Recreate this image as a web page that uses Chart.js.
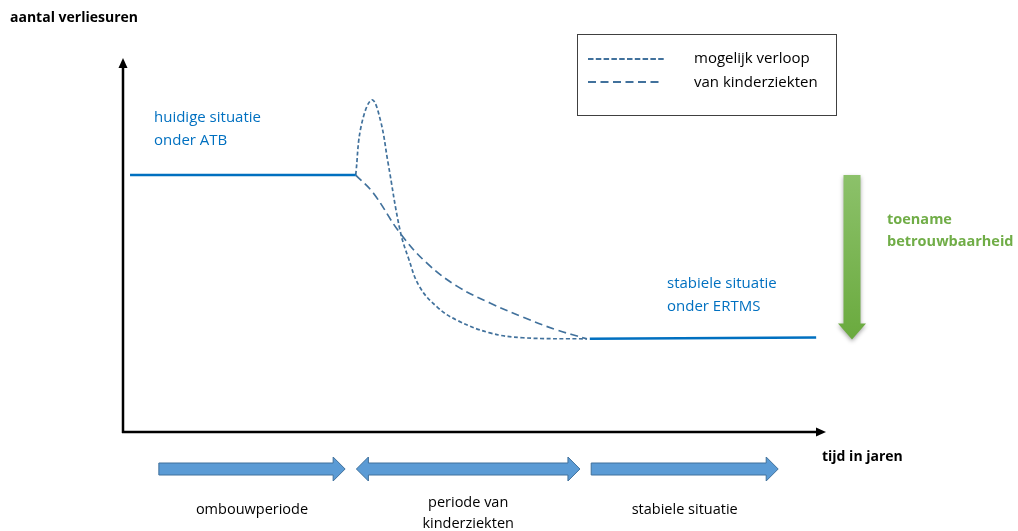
<!DOCTYPE html>
<html>
<head>
<meta charset="utf-8">
<script src="https://cdn.jsdelivr.net/npm/chart.js@4"></script>
<style>
  html, body { margin: 0; padding: 0; background: #fff; }
  #wrap { width: 1018px; height: 531px; position: relative; }
</style>
</head>
<body>
<div id="wrap"><canvas id="chart"></canvas></div>
<script>
// huidige situatie (ATB) en stabiele situatie (ERTMS)
const preX = [1, 33.1];
const preY = [68.7, 68.7];
const postX = [66.4, 98.6];
const postY = [24.9, 25.3];

// mogelijk verloop van kinderziekten: piek-variant
const peakX = [33.1, 33.9, 35.4, 36.6, 37.7, 39.4, 40.6, 42.2, 44.7, 47.5, 52.2, 56.9, 66.0];
const peakY = [68.7, 82.0, 88.8, 83.5, 72.0, 54.0, 46.5, 38.8, 33.4, 29.9, 26.5, 25.2, 24.9];

// mogelijk verloop van kinderziekten: geleidelijke variant
const slowX = [33.1, 35.6, 39.4, 43.2, 47.5, 52.2, 56.9, 61.7, 66.0];
const slowY = [68.7, 63.9, 53.2, 45.2, 39.0, 34.5, 30.7, 27.3, 24.9];

// perioden onder de tijdas
const periodLabels = [['ombouwperiode'], ['periode van', 'kinderziekten'], ['stabiele situatie']];
const periodStart = [5.1, 33.2, 66.6];
const periodEnd = [31.6, 65.0, 93.2];
const periodDouble = [false, true, false];

// betrouwbaarheid: van oud naar nieuw niveau
const reliabilityFrom = 68.7;
const reliabilityTo = 24.7;

const toPts = (xs, ys) => xs.map((x, i) => ({ x: x, y: ys[i] }));

const solidBlue = '#0070C0';
const dashBlue = '#41719C';
const font = '"Open Sans", "Liberation Sans", sans-serif';

function blockArrow(ctx, x1, x2, yc, dbl) {
  const sh = 6, hh = 12, hl = 12;
  ctx.beginPath();
  if (dbl) {
    ctx.moveTo(x1, yc);
    ctx.lineTo(x1 + hl, yc - hh);
    ctx.lineTo(x1 + hl, yc - sh);
  } else {
    ctx.moveTo(x1, yc - sh);
  }
  ctx.lineTo(x2 - hl, yc - sh);
  ctx.lineTo(x2 - hl, yc - hh);
  ctx.lineTo(x2, yc);
  ctx.lineTo(x2 - hl, yc + hh);
  ctx.lineTo(x2 - hl, yc + sh);
  if (dbl) {
    ctx.lineTo(x1 + hl, yc + sh);
    ctx.lineTo(x1 + hl, yc + hh);
  } else {
    ctx.lineTo(x1, yc + sh);
  }
  ctx.closePath();
  ctx.fillStyle = '#5B9BD5';
  ctx.fill();
  ctx.strokeStyle = '#41719C';
  ctx.lineWidth = 1;
  ctx.stroke();
}

const diagram = {
  id: 'diagram',
  beforeDatasetsDraw(chart) {
    const ctx = chart.ctx;
    const xs = chart.scales.x, ys = chart.scales.y;
    const x0 = xs.getPixelForValue(0), y0 = ys.getPixelForValue(0);
    const xTip = xs.getPixelForValue(100), yTip = ys.getPixelForValue(100);
    ctx.save();
    // assen
    ctx.strokeStyle = '#000';
    ctx.fillStyle = '#000';
    ctx.lineWidth = 2.5;
    ctx.beginPath();
    ctx.moveTo(x0, y0 + 1);
    ctx.lineTo(x0, yTip + 8);
    ctx.moveTo(x0 - 1, y0);
    ctx.lineTo(xTip - 8, y0);
    ctx.stroke();
    ctx.beginPath();
    ctx.moveTo(x0, yTip);
    ctx.lineTo(x0 - 4.5, yTip + 10);
    ctx.lineTo(x0 + 4.5, yTip + 10);
    ctx.closePath();
    ctx.fill();
    ctx.beginPath();
    ctx.moveTo(xTip, y0);
    ctx.lineTo(xTip - 10, y0 - 4.5);
    ctx.lineTo(xTip - 10, y0 + 4.5);
    ctx.closePath();
    ctx.fill();
    ctx.restore();
  },
  afterDraw(chart) {
    const ctx = chart.ctx;
    const xs = chart.scales.x, ys = chart.scales.y;
    ctx.save();
    ctx.textBaseline = 'middle';

    // aslabels
    ctx.fillStyle = '#000';
    ctx.font = 'bold 14px ' + font;
    ctx.textAlign = 'left';
    ctx.fillText('aantal verliesuren', 10, 18);
    ctx.fillText('tijd in jaren', 822, 457);

    // situatie-teksten
    ctx.font = '15px ' + font;
    ctx.fillStyle = solidBlue;
    ctx.fillText('huidige situatie', 154, 118);
    ctx.fillText('onder ATB', 154, 141);
    ctx.fillText('stabiele situatie', 667, 284);
    ctx.fillText('onder ERTMS', 667, 307);

    // perioden
    periodLabels.forEach((lines, i) => {
      const a = xs.getPixelForValue(periodStart[i]);
      const b = xs.getPixelForValue(periodEnd[i]);
      blockArrow(ctx, a, b, 469, periodDouble[i]);
      ctx.fillStyle = '#000';
      ctx.font = '14.5px ' + font;
      ctx.textAlign = 'center';
      const cy = lines.length > 1 ? 503 : 510;
      lines.forEach((t, j) => ctx.fillText(t, (a + b) / 2, cy + j * 21));
    });

    // groene pijl
    const gx = 852;
    const gTop = ys.getPixelForValue(reliabilityFrom);
    const gBot = ys.getPixelForValue(reliabilityTo);
    const grad = ctx.createLinearGradient(0, gTop, 0, gBot);
    grad.addColorStop(0, '#8CC16A');
    grad.addColorStop(1, '#6AAA3E');
    ctx.save();
    ctx.shadowColor = 'rgba(0,0,0,0.35)';
    ctx.shadowBlur = 4;
    ctx.shadowOffsetY = 2;
    ctx.fillStyle = grad;
    ctx.beginPath();
    ctx.moveTo(gx - 8.5, gTop);
    ctx.lineTo(gx + 8.5, gTop);
    ctx.lineTo(gx + 8.5, gBot - 16);
    ctx.lineTo(gx + 14, gBot - 16);
    ctx.lineTo(gx, gBot);
    ctx.lineTo(gx - 14, gBot - 16);
    ctx.lineTo(gx - 8.5, gBot - 16);
    ctx.closePath();
    ctx.fill();
    ctx.restore();
    ctx.fillStyle = '#70AD47';
    ctx.font = 'bold 14.5px ' + font;
    ctx.textAlign = 'left';
    ctx.fillText('toename', 887, 220);
    ctx.fillText('betrouwbaarheid', 887, 242);

    // legenda
    ctx.strokeStyle = '#404040';
    ctx.lineWidth = 1;
    ctx.strokeRect(577.5, 34.5, 259, 81);
    ctx.strokeStyle = dashBlue;
    ctx.lineWidth = 1.8;
    ctx.setLineDash([5.5, 2.3]);
    ctx.beginPath();
    ctx.moveTo(588, 59);
    ctx.lineTo(666, 59);
    ctx.stroke();
    ctx.setLineDash([8, 4.5]);
    ctx.beginPath();
    ctx.moveTo(588, 82);
    ctx.lineTo(663, 82);
    ctx.stroke();
    ctx.setLineDash([]);
    ctx.fillStyle = '#000';
    ctx.font = '15px ' + font;
    ctx.fillText('mogelijk verloop', 694, 59);
    ctx.fillText('van kinderziekten', 694, 83);
    ctx.restore();
  }
};

new Chart(document.getElementById('chart'), {
  type: 'line',
  data: {
    datasets: [
      {
        label: 'huidige situatie onder ATB',
        data: toPts(preX, preY),
        borderColor: solidBlue,
        borderWidth: 2.5,
        pointRadius: 0
      },
      {
        label: 'stabiele situatie onder ERTMS',
        data: toPts(postX, postY),
        borderColor: solidBlue,
        borderWidth: 2.5,
        pointRadius: 0
      },
      {
        label: 'mogelijk verloop (piek)',
        data: toPts(peakX, peakY),
        borderColor: dashBlue,
        borderWidth: 1.7,
        borderDash: [4, 2.5],
        tension: 0.4,
        pointRadius: 0
      },
      {
        label: 'mogelijk verloop (geleidelijk)',
        data: toPts(slowX, slowY),
        borderColor: dashBlue,
        borderWidth: 1.7,
        borderDash: [8, 4.5],
        tension: 0.4,
        pointRadius: 0
      }
    ]
  },
  options: {
    responsive: true,
    maintainAspectRatio: false,
    animation: false,
    layout: {
      padding: { left: 123, right: 192, top: 58, bottom: 99 }
    },
    plugins: {
      legend: { display: false },
      tooltip: { enabled: false }
    },
    scales: {
      x: { type: 'linear', min: 0, max: 100, display: false },
      y: { type: 'linear', min: 0, max: 100, display: false }
    }
  },
  plugins: [diagram]
});
</script>
</body>
</html>
